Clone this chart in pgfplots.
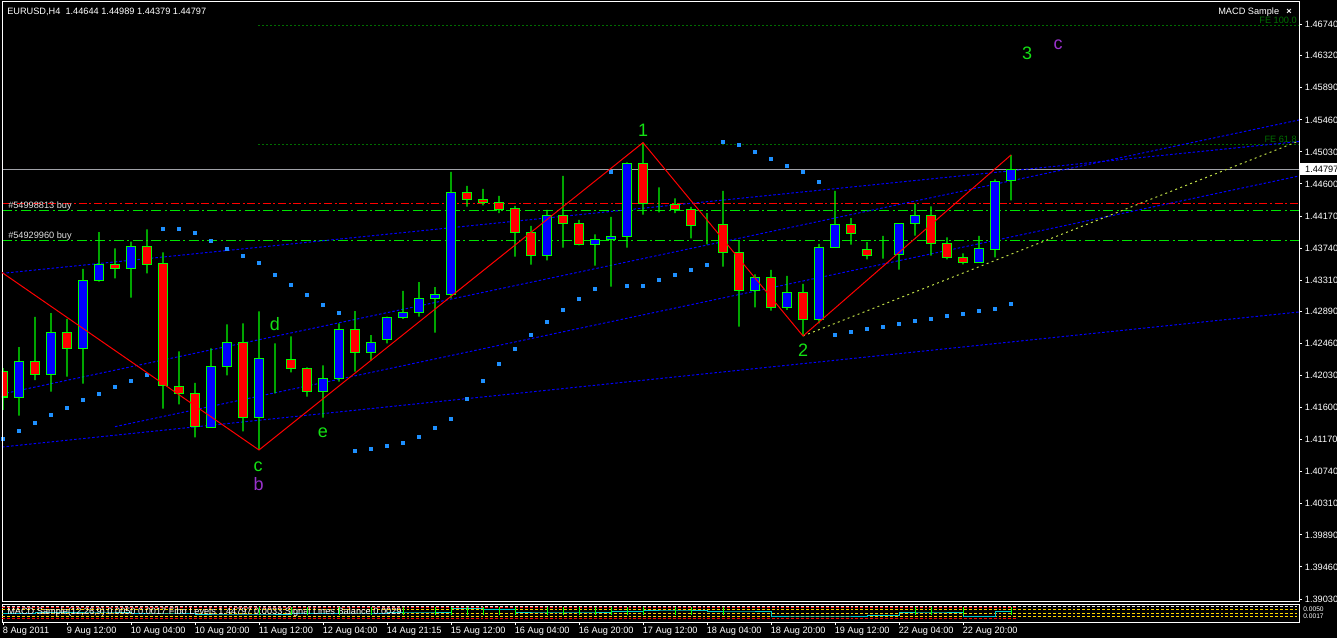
\documentclass[border=0pt]{standalone}
\usepackage{fontspec}
\setmainfont{Liberation Sans}
\usepackage{pgfplots}
\usepackage{pgfplotstable}
\pgfplotsset{compat=1.18}

\definecolor{mtlime}{RGB}{0,255,0}
\definecolor{mtred}{RGB}{255,0,0}
\definecolor{mtblue}{RGB}{0,0,255}
\definecolor{sardot}{RGB}{30,144,255}
\definecolor{fegreen}{RGB}{0,110,0}
\definecolor{ygreen}{RGB}{190,220,70}
\definecolor{bidgrey}{RGB}{160,162,168}
\definecolor{lbl}{RGB}{225,225,225}
\definecolor{wavegreen}{RGB}{20,225,20}
\definecolor{wavepurple}{RGB}{153,50,204}
\definecolor{subcyan}{RGB}{0,200,200}
\definecolor{subyellow}{RGB}{255,215,0}

\newcommand\sm{\fontsize{6.9pt}{7pt}\selectfont}
\newcommand\subfont{\fontsize{5pt}{5pt}\selectfont}
\newcommand\lbig{\fontsize{13.5pt}{14pt}\selectfont}

% EURUSD H4 candles: index, open, high, low, close
\pgfplotstableread{
k O H L C
0 1.42077 1.42130 1.41567 1.41741
1 1.41737 1.42412 1.41490 1.42220
2 1.42220 1.42815 1.41969 1.42046
3 1.42046 1.42868 1.41812 1.42609
4 1.42609 1.42788 1.42014 1.42395
5 1.42395 1.43459 1.41920 1.43307
6 1.43307 1.43952 1.43289 1.43522
7 1.43522 1.43737 1.43334 1.43468
8 1.43468 1.43825 1.43074 1.43764
9 1.43764 1.43992 1.43401 1.43522
10 1.43536 1.43683 1.41584 1.41898
11 1.41885 1.42354 1.41643 1.41791
12 1.41791 1.41929 1.41200 1.41348
13 1.41334 1.42395 1.41334 1.42153
14 1.42153 1.42717 1.42032 1.42475
15 1.42475 1.42730 1.41281 1.41469
16 1.41469 1.42891 1.41030 1.42261
17 1.42251 1.42462 1.41791 1.42251
18 1.42247 1.42556 1.42073 1.42126
19 1.42126 1.42140 1.41745 1.41818
20 1.41818 1.42167 1.41463 1.41992
21 1.41992 1.42730 1.41946 1.42650
22 1.42650 1.42895 1.42081 1.42341
23 1.42341 1.42573 1.42228 1.42475
24 1.42515 1.42819 1.42462 1.42811
25 1.42811 1.43164 1.42788 1.42878
26 1.42878 1.43284 1.42819 1.43066
27 1.43066 1.43217 1.42604 1.43119
28 1.43119 1.44761 1.43066 1.44488
29 1.44488 1.44573 1.44295 1.44394
30 1.44394 1.44533 1.44314 1.44354
31 1.44354 1.44439 1.44207 1.44260
32 1.44274 1.44305 1.43624 1.43952
33 1.43952 1.44036 1.43517 1.43643
34 1.43643 1.44251 1.43576 1.44180
35 1.44180 1.44707 1.43745 1.44072
36 1.44072 1.44117 1.43777 1.43790
37 1.43790 1.43925 1.43503 1.43858
38 1.43858 1.44157 1.43221 1.43898
39 1.43898 1.44891 1.43745 1.44878
40 1.44878 1.45154 1.44188 1.44341
41 1.44341 1.44555 1.44220 1.44341
42 1.44327 1.44408 1.44207 1.44260
43 1.44260 1.44291 1.43871 1.44045
44 1.44053 1.44207 1.43790 1.44053
45 1.44059 1.44506 1.43490 1.43683
46 1.43683 1.43844 1.42685 1.43173
47 1.43173 1.43388 1.42945 1.43348
48 1.43348 1.43446 1.42899 1.42945
49 1.42945 1.43365 1.42909 1.43146
50 1.43146 1.43258 1.42560 1.42784
51 1.42784 1.43795 1.42730 1.43750
52 1.43750 1.44506 1.43750 1.44059
53 1.44059 1.44143 1.43785 1.43938
54 1.43723 1.43821 1.43589 1.43643
55 1.43651 1.43902 1.43597 1.43651
56 1.43656 1.44072 1.43450 1.44072
57 1.44072 1.44335 1.43906 1.44180
58 1.44180 1.44300 1.43637 1.43804
59 1.43804 1.43884 1.43589 1.43616
60 1.43616 1.43670 1.43522 1.43549
61 1.43549 1.43902 1.43549 1.43737
62 1.43723 1.44663 1.43616 1.44636
63 1.44644 1.44989 1.44379 1.44797
}\ohlc

% parabolic SAR dots
\pgfplotstableread{
k S
0 1.41177
1 1.41285
2 1.41392
3 1.41500
4 1.41593
5 1.41701
6 1.41781
7 1.41875
8 1.41956
9 1.42036
10 1.43996
11 1.43996
12 1.43942
13 1.43835
14 1.43727
15 1.43633
16 1.43540
17 1.43378
18 1.43244
19 1.43110
20 1.42976
21 1.42868
22 1.41016
23 1.41043
24 1.41083
25 1.41124
26 1.41204
27 1.41325
28 1.41446
29 1.41714
30 1.41956
31 1.42184
32 1.42385
33 1.42573
34 1.42748
35 1.42909
36 1.43056
37 1.43191
38 1.44761
39 1.43231
40 1.43231
41 1.43311
42 1.43378
43 1.43446
44 1.43513
45 1.45163
46 1.45123
47 1.45029
48 1.44935
49 1.44841
50 1.44761
51 1.44627
52 1.42573
53 1.42613
54 1.42654
55 1.42681
56 1.42721
57 1.42761
58 1.42788
59 1.42828
60 1.42855
61 1.42895
62 1.42922
63 1.42989
}\sar

% sub-window oscillator line
\pgfplotstableread{
k V
0 9
2 9.5
4 10
6 10
8 9
10 9
12 8
14 8
16 8
18 8.5
20 9
22 9
24 10
26 10
28 14
30 13
32 10
34 10
36 10
38 10.5
40 12
42 12
44 11
46 11
48 6
50 6
52 6
54 6.5
56 10
58 10
60 6
62 11
63 11
}\osc

\pgfplotsset{
  chart/.style={scale only axis, width=972.75pt, height=450pt,
    at={(1.5pt,27pt)}, anchor=south west,
    xmin=-0.0625, xmax=81, ymin=1.38990, ymax=1.47042},
}

\begin{document}
\begin{tikzpicture}
\fill[black] (0,0) rectangle (1002.75pt,478.5pt);
\useasboundingbox (0,0) rectangle (1002.75pt,478.5pt);

% lines and SAR behind the candles
\begin{axis}[chart, hide axis]
  \addplot[fegreen, line width=0.75pt, dash pattern=on 1.5pt off 1.5pt] coordinates {(15.94,1.46720) (81,1.46720)};
  \addplot[fegreen, line width=0.75pt, dash pattern=on 1.5pt off 1.5pt] coordinates {(15.94,1.45123) (81,1.45123)};
  \addplot[bidgrey, line width=0.75pt] coordinates {(-0.0625,1.44797) (81,1.44797)};
  \addplot[mtred, line width=0.75pt, dash pattern=on 6pt off 2pt on 1.5pt off 2pt] coordinates {(-0.0625,1.44341) (81,1.44341)};
  \addplot[mtlime!90!black, line width=0.75pt, dash pattern=on 7.5pt off 2.5pt on 1.5pt off 2.5pt] coordinates {(-0.0625,1.44247) (81,1.44247)};
  \addplot[mtlime!90!black, line width=0.75pt, dash pattern=on 7.5pt off 2.5pt on 1.5pt off 2.5pt] coordinates {(-0.0625,1.43835) (81,1.43835)};
  % channel lines
  \addplot[mtblue, line width=0.75pt, dash pattern=on 1.9pt off 1.5pt] coordinates {(-0.0625,1.43400) (81,1.45170)};
  \addplot[mtblue, line width=0.75pt, dash pattern=on 1.9pt off 1.5pt] coordinates {(-0.0625,1.41781) (81,1.45459)};
  \addplot[mtblue, line width=0.75pt, dash pattern=on 1.9pt off 1.5pt] coordinates {(-0.0625,1.41070) (81,1.42882)};
  \addplot[mtblue, line width=0.75pt, dash pattern=on 1.9pt off 1.5pt] coordinates {(7,1.41343) (81,1.44707)};
  \addplot[ygreen, line width=0.75pt, dash pattern=on 1.5pt off 2.5pt] coordinates {(50,1.42560) (81,1.45177)};
  \addplot[only marks, mark=square*, mark size=1.2pt, sardot] table[x=k, y=S] {\sar};
\end{axis}

% wicks
\begin{axis}[chart, hide axis, ybar stacked, bar width=0.95pt]
  \addplot[draw=none, fill=none] table[x=k, y=L] {\ohlc};
  \addplot[draw=none, fill=mtlime] table[x=k, y expr=\thisrow{H}-\thisrow{L}] {\ohlc};
\end{axis}

% bodies
\begin{axis}[chart, hide axis, ybar stacked, bar width=0.6]
  \addplot[draw=none, fill=none] table[x=k, y expr={min(\thisrow{O},\thisrow{C})}] {\ohlc};
  \addplot[fill=mtblue, draw=mtlime, line width=0.8pt] table[x=k, y expr={max(\thisrow{C}-\thisrow{O},0)}] {\ohlc};
  \addplot[fill=mtred, draw=mtlime, line width=0.8pt] table[x=k, y expr={max(\thisrow{O}-\thisrow{C},0)}] {\ohlc};
\end{axis}

% frame, price scale, zigzag and labels
\begin{axis}[chart, clip=false,
  axis line style={white, line width=0.75pt},
  xtick=\empty,
  ytick={1.46740,1.46320,1.45890,1.45460,1.45030,1.44600,1.44170,1.43740,1.43310,1.42890,1.42460,1.42030,1.41600,1.41170,1.40740,1.40310,1.39890,1.39460,1.39030},
  yticklabels={1.46740,1.46320,1.45890,1.45460,1.45030,1.44600,1.44170,1.43740,1.43310,1.42890,1.42460,1.42030,1.41600,1.41170,1.40740,1.40310,1.39890,1.39460,1.39030},
  ytick pos=right, yticklabel pos=right, tick align=outside,
  major tick length=2.25pt,
  y tick style={white, line width=0.75pt},
  yticklabel style={font=\sm, text=white, anchor=west, inner sep=0pt, xshift=2pt},
]
  \addplot[mtred, line width=0.75pt] coordinates {(-0.0625,1.43412) (16,1.41030) (40,1.45154) (50,1.42560) (63,1.44989)};

  \node[anchor=base west, font=\sm, text=white, inner sep=0pt] at (axis cs:0.25,1.46875) {EURUSD,H4\ \ 1.44644 1.44989 1.44379 1.44797};
  \node[anchor=base west, font=\sm, text=white, inner sep=0pt] at (axis cs:75.94,1.46868) {MACD Sample};
  \node[anchor=base west, font=\sm\bfseries, text=white, inner sep=0pt] at (axis cs:80.2,1.46868) {×};
  \node[anchor=base east, font=\sm, text=fegreen, inner sep=0pt] at (axis cs:80.875,1.46747) {FE 100.0};
  \node[anchor=base east, font=\sm, text=fegreen, inner sep=0pt] at (axis cs:80.875,1.45154) {FE 61.8};
  \node[anchor=base west, font=\sm, text=lbl, inner sep=0pt] at (axis cs:0.3125,1.44274) {\#54998813 buy};
  \node[anchor=base west, font=\sm, text=lbl, inner sep=0pt] at (axis cs:0.3125,1.43866) {\#54929960 buy};

  \node[anchor=base, font=\lbig, text=wavegreen, inner sep=0pt] at (axis cs:40,1.45231) {1};
  \node[anchor=base, font=\lbig, text=wavegreen, inner sep=0pt] at (axis cs:50,1.42278) {2};
  \node[anchor=base, font=\lbig, text=wavegreen, inner sep=0pt] at (axis cs:64,1.46264) {3};
  \node[anchor=base, font=\lbig, text=wavepurple, inner sep=0pt] at (axis cs:65.94,1.46398) {c};
  \node[anchor=base, font=\lbig, text=wavegreen, inner sep=0pt] at (axis cs:15.94,1.40735) {c};
  \node[anchor=base, font=\lbig, text=wavepurple, inner sep=0pt] at (axis cs:15.97,1.40493) {b};
  \node[anchor=base, font=\lbig, text=wavegreen, inner sep=0pt] at (axis cs:17,1.42640) {d};
  \node[anchor=base, font=\lbig, text=wavegreen, inner sep=0pt] at (axis cs:20,1.41204) {e};

  \node[anchor=west, fill=white, text=black, font=\sm, inner xsep=4pt, inner ysep=0pt, minimum height=9pt, xshift=0.4pt] at (axis cs:81,1.44797) {1.44797};
\end{axis}

% indicator sub-window and time scale
\begin{axis}[scale only axis, width=972.75pt, height=13.5pt,
  at={(1.5pt,12pt)}, anchor=south west,
  xmin=-0.0625, xmax=81, ymin=0, ymax=18, clip=false,
  axis line style={white, line width=0.75pt},
  ytick=\empty,
  xtick={0,4,...,60},
  xticklabels={{8 Aug 2011},{9 Aug 12:00},{10 Aug 04:00},{10 Aug 20:00},{11 Aug 12:00},{12 Aug 04:00},{14 Aug 21:15},{15 Aug 12:00},{16 Aug 04:00},{16 Aug 20:00},{17 Aug 12:00},{18 Aug 04:00},{18 Aug 20:00},{19 Aug 12:00},{22 Aug 04:00},{22 Aug 20:00}},
  xtick pos=left, xticklabel pos=left, tick align=outside,
  major tick length=2.25pt,
  x tick style={white, line width=0.75pt},
  xticklabel style={font=\sm, text=white, anchor=north west, inner sep=0pt, yshift=-1.7pt, xshift=-0.3pt},
]
  \addplot[lbl, line width=0.75pt, dash pattern=on 2.2pt off 1.5pt] coordinates {(-0.0625,15.5) (81,15.5)};
  \addplot[mtred, line width=0.75pt, dash pattern=on 2.2pt off 1.5pt] coordinates {(-0.0625,14.3) (63.3,14.3)};
  \addplot[subyellow, line width=0.75pt, dash pattern=on 2.2pt off 1.5pt] coordinates {(-0.0625,12.5) (81,12.5)};
  \addplot[subyellow, line width=0.75pt, dash pattern=on 2.2pt off 1.5pt] coordinates {(-0.0625,9) (81,9)};
  \addplot[subyellow, line width=0.75pt, dash pattern=on 2.2pt off 1.5pt] coordinates {(-0.0625,5.5) (81,5.5)};
  \addplot[mtred, line width=0.75pt, dash pattern=on 2.2pt off 1.5pt] coordinates {(-0.0625,3.8) (63.3,3.8)};
  \addplot[subcyan, line width=0.75pt, const plot] table[x=k, y=V] {\osc};
  \addplot[only marks, mark=|, mark size=3pt, mtlime, mark options={line width=0.75pt}] coordinates {
    (16,11) (18,11) (19,11) (21,11) (23,11) (25,11) (27,11) (28,11) (29,11) (30,11) (31,11) (32,11)
    (34,11) (35,11) (36,11) (37,11) (38,11) (39,11) (40,11) (42,11) (43,11) (45,11) (57,11) (58,11) (60,11) (63,11)};
  \node[anchor=west, font=\sm, text=white, inner sep=0pt] at (axis cs:0.25,9.5) {MACD Sample(12,26,9) 0.0050 0.0017 Fibo Levels 1.44797 0.0033 Signal Lines Balance 0.0029};
  \node[anchor=west, font=\subfont, text=white, inner sep=0pt] at (axis cs:81,13) {\hspace{3pt}0.0050};
  \node[anchor=west, font=\subfont, text=white, inner sep=0pt] at (axis cs:81,5.5) {\hspace{3pt}0.0017};
\end{axis}
\end{tikzpicture}
\end{document}
